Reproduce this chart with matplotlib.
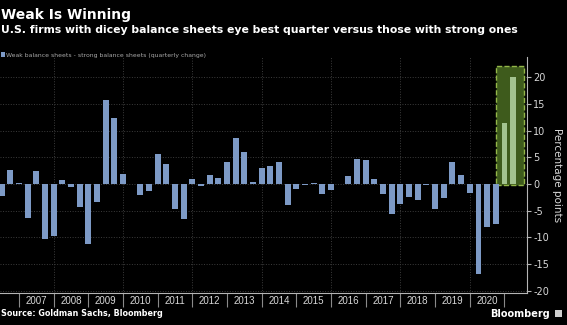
import numpy as np
import matplotlib
matplotlib.use('Agg')
import matplotlib.pyplot as plt
from matplotlib.patches import Rectangle

# Data: weak minus strong balance sheets, quarterly change (pp), 2006 Q2 .. 2020 Q3
spread = [-2.3, 2.7, 0.1, -6.3, 2.4, -10.4, -9.7, 0.7, -0.6, -4.3,
          -11.2, -3.4, 15.8, 12.4, 1.8, -0.1, -2.1, -1.4, 5.7, 3.8,
          -4.75, -6.6, 1.0, -0.4, 1.75, 1.1, 4.2, 8.6, 5.9, 0.4,
          2.9, 3.3, 4.2, -4.0, -0.9, -0.15, 0.1, -1.8, -1.2, 0.05,
          1.4, 4.6, 4.55, 1.0, -1.8, -5.7, -3.8, -2.4, -3.0, -0.2,
          -4.7, -2.7, 4.2, 1.6, -1.75, -16.8, -8.0, -7.6]
# highlighted quarters (2020 Q4, 2021 Q1)
outlook = [11.5, 20.1]
years = list(range(2007, 2021))
y_ticks = [20, 15, 10, 5, 0, -5, -10, -15, -20]

# Colors
bg = '#000000'
bar_color = '#7d9ac6'
green_bar = '#a3c38f'
box_fill = '#3e5b1c'
box_edge = '#93b648'
grid_color = '#3c3c3c'
axis_color = '#b5b5b5'
text_color = '#d8d8d8'

plt.rcParams['axes.unicode_minus'] = False

fig = plt.figure(figsize=(5.67, 3.25), dpi=100, facecolor=bg)
ax = fig.add_axes([0, 32 / 325, 527 / 567, 236 / 325], facecolor=bg)

x_main = np.arange(len(spread))
x_out = np.arange(len(spread), len(spread) + len(outlook))

# Highlight box behind the last two bars
box = Rectangle((x_out[0] - 1.0, -0.2), len(outlook) + 1.2, max(outlook) + 2.3,
                facecolor=box_fill, edgecolor=box_edge, linestyle='--', linewidth=1.0, zorder=1)
ax.add_patch(box)

ax.bar(x_main, spread, width=0.68, color=bar_color, zorder=2)
ax.bar(x_out, outlook, width=0.68, color=green_bar, zorder=2)

ax.set_xlim(-0.19, 60.6)
ax.set_ylim(-20.45, 23.8)

# Grid: horizontal every 5pp, vertical every 2 years
for yv in y_ticks:
    ax.axhline(yv, color=grid_color, linestyle=':', linewidth=0.7, zorder=0)
year_ends = np.arange(2, len(spread) + len(outlook), 4)
for xv in year_ends[1::2]:
    if xv < 56:
        ax.axvline(xv, color=grid_color, linestyle=':', linewidth=0.7, zorder=0)

# X axis: separators at year ends, year labels in between
ax.set_xticks(year_ends)
ax.set_xticklabels([])
ax.set_xticks(year_ends[:-1] + 2, minor=True)
ax.set_xticklabels([str(y) for y in years], minor=True)
ax.tick_params(axis='x', which='major', length=10, width=0.8, color='#8a8a8a', direction='out')
ax.tick_params(axis='x', which='minor', length=0, pad=2.5, labelsize=7, labelcolor=text_color)
for lbl in ax.get_xticklabels(minor=True):
    lbl.set_fontfamily('Liberation Sans')

# Y axis on the right
ax.yaxis.tick_right()
ax.yaxis.set_label_position('right')
ax.set_yticks(y_ticks)
ax.set_yticklabels([str(v) for v in y_ticks])
ax.tick_params(axis='y', length=3, width=0.8, color=axis_color, pad=1.5,
               labelsize=7, labelcolor=text_color)
ax.set_ylabel('Percentage points', rotation=270, color=text_color, fontsize=7.5, labelpad=9)

for side in ['left', 'top']:
    ax.spines[side].set_visible(False)
ax.spines['right'].set_color(axis_color)
ax.spines['bottom'].set_color(axis_color)
ax.spines['right'].set_linewidth(0.8)
ax.spines['bottom'].set_linewidth(0.8)

# Titles
fig.text(0.002, 1 - 19 / 325, 'Weak Is Winning', color='white', fontsize=10,
         fontweight='bold', va='baseline', ha='left')
fig.text(0.002, 1 - 33 / 325, 'U.S. firms with dicey balance sheets eye best quarter versus those with strong ones',
         color='white', fontsize=7.8, fontweight='bold', va='baseline', ha='left')

# Legend
fig.patches.append(Rectangle((0.5 / 567, 1 - 56.5 / 325), 4 / 567, 4 / 325,
                             transform=fig.transFigure, facecolor=bar_color, edgecolor='none'))
fig.text(6 / 567, 1 - 57 / 325, 'Weak balance sheets - strong balance sheets (quarterly change)',
         color='#a8a8a8', fontsize=4.4, va='baseline', ha='left')

# Footer
fig.text(0.002, 1 - 316.5 / 325, 'Source: Goldman Sachs, Bloomberg', color='white',
         fontsize=5.8, fontweight='bold', va='baseline', ha='left')
fig.text(550 / 567, 1 - 317 / 325, 'Bloomberg', color='white', fontsize=7,
         fontweight='bold', va='baseline', ha='right')
fig.patches.append(Rectangle((555 / 567, 1 - 316.5 / 325), 6.5 / 567, 6.5 / 325,
                             transform=fig.transFigure, facecolor='#cfcfcf', edgecolor='none'))

fig.savefig('out.png', dpi=100, facecolor=bg)
